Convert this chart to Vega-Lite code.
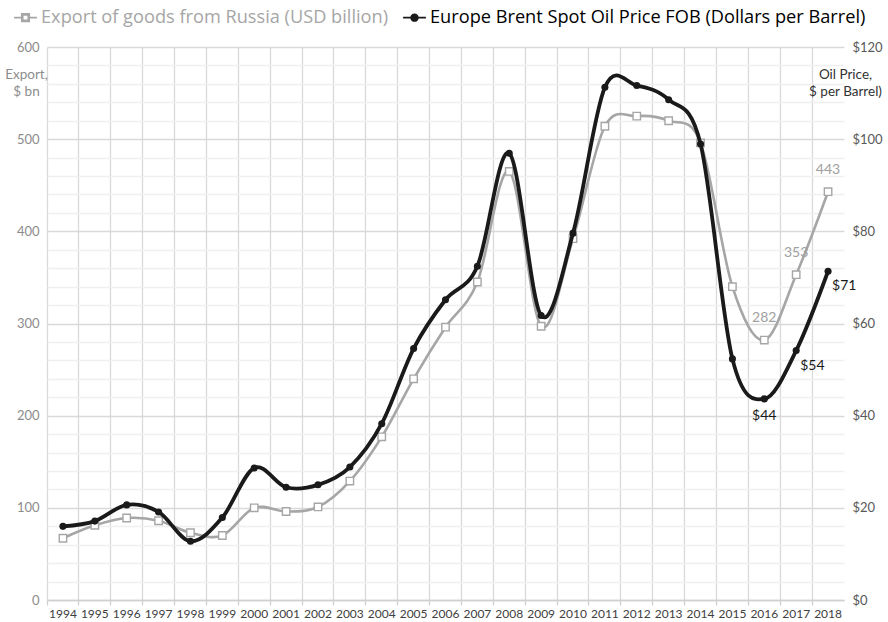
{
  "$schema": "https://vega.github.io/schema/vega-lite/v6.json",
  "autosize": "none",
  "width": 797,
  "height": 553,
  "padding": {"left": 47, "top": 47, "right": 44, "bottom": 22},
  "background": "white",
  "config": {
    "font": "Lato",
    "view": {"stroke": null}
  },
  "data": {
    "values": [
      {"year": "1994", "series": "Export of goods from Russia (USD billion)", "value": 67},
      {"year": "1995", "series": "Export of goods from Russia (USD billion)", "value": 81},
      {"year": "1996", "series": "Export of goods from Russia (USD billion)", "value": 89},
      {"year": "1997", "series": "Export of goods from Russia (USD billion)", "value": 86},
      {"year": "1998", "series": "Export of goods from Russia (USD billion)", "value": 73},
      {"year": "1999", "series": "Export of goods from Russia (USD billion)", "value": 70},
      {"year": "2000", "series": "Export of goods from Russia (USD billion)", "value": 100},
      {"year": "2001", "series": "Export of goods from Russia (USD billion)", "value": 96},
      {"year": "2002", "series": "Export of goods from Russia (USD billion)", "value": 101},
      {"year": "2003", "series": "Export of goods from Russia (USD billion)", "value": 129},
      {"year": "2004", "series": "Export of goods from Russia (USD billion)", "value": 177},
      {"year": "2005", "series": "Export of goods from Russia (USD billion)", "value": 240},
      {"year": "2006", "series": "Export of goods from Russia (USD billion)", "value": 296},
      {"year": "2007", "series": "Export of goods from Russia (USD billion)", "value": 345},
      {"year": "2008", "series": "Export of goods from Russia (USD billion)", "value": 465},
      {"year": "2009", "series": "Export of goods from Russia (USD billion)", "value": 297},
      {"year": "2010", "series": "Export of goods from Russia (USD billion)", "value": 392},
      {"year": "2011", "series": "Export of goods from Russia (USD billion)", "value": 514},
      {"year": "2012", "series": "Export of goods from Russia (USD billion)", "value": 525},
      {"year": "2013", "series": "Export of goods from Russia (USD billion)", "value": 520},
      {"year": "2014", "series": "Export of goods from Russia (USD billion)", "value": 496},
      {"year": "2015", "series": "Export of goods from Russia (USD billion)", "value": 340},
      {"year": "2016", "series": "Export of goods from Russia (USD billion)", "value": 282},
      {"year": "2017", "series": "Export of goods from Russia (USD billion)", "value": 353},
      {"year": "2018", "series": "Export of goods from Russia (USD billion)", "value": 443},
      {"year": "1994", "series": "Europe Brent Spot Oil Price FOB (Dollars per Barrel)", "value": 15.98},
      {"year": "1995", "series": "Europe Brent Spot Oil Price FOB (Dollars per Barrel)", "value": 17.12},
      {"year": "1996", "series": "Europe Brent Spot Oil Price FOB (Dollars per Barrel)", "value": 20.64},
      {"year": "1997", "series": "Europe Brent Spot Oil Price FOB (Dollars per Barrel)", "value": 19.11},
      {"year": "1998", "series": "Europe Brent Spot Oil Price FOB (Dollars per Barrel)", "value": 12.76},
      {"year": "1999", "series": "Europe Brent Spot Oil Price FOB (Dollars per Barrel)", "value": 17.9},
      {"year": "2000", "series": "Europe Brent Spot Oil Price FOB (Dollars per Barrel)", "value": 28.66},
      {"year": "2001", "series": "Europe Brent Spot Oil Price FOB (Dollars per Barrel)", "value": 24.46},
      {"year": "2002", "series": "Europe Brent Spot Oil Price FOB (Dollars per Barrel)", "value": 24.99},
      {"year": "2003", "series": "Europe Brent Spot Oil Price FOB (Dollars per Barrel)", "value": 28.85},
      {"year": "2004", "series": "Europe Brent Spot Oil Price FOB (Dollars per Barrel)", "value": 38.26},
      {"year": "2005", "series": "Europe Brent Spot Oil Price FOB (Dollars per Barrel)", "value": 54.57},
      {"year": "2006", "series": "Europe Brent Spot Oil Price FOB (Dollars per Barrel)", "value": 65.16},
      {"year": "2007", "series": "Europe Brent Spot Oil Price FOB (Dollars per Barrel)", "value": 72.44},
      {"year": "2008", "series": "Europe Brent Spot Oil Price FOB (Dollars per Barrel)", "value": 96.94},
      {"year": "2009", "series": "Europe Brent Spot Oil Price FOB (Dollars per Barrel)", "value": 61.74},
      {"year": "2010", "series": "Europe Brent Spot Oil Price FOB (Dollars per Barrel)", "value": 79.61},
      {"year": "2011", "series": "Europe Brent Spot Oil Price FOB (Dollars per Barrel)", "value": 111.26},
      {"year": "2012", "series": "Europe Brent Spot Oil Price FOB (Dollars per Barrel)", "value": 111.63},
      {"year": "2013", "series": "Europe Brent Spot Oil Price FOB (Dollars per Barrel)", "value": 108.56},
      {"year": "2014", "series": "Europe Brent Spot Oil Price FOB (Dollars per Barrel)", "value": 98.97},
      {"year": "2015", "series": "Europe Brent Spot Oil Price FOB (Dollars per Barrel)", "value": 52.32},
      {"year": "2016", "series": "Europe Brent Spot Oil Price FOB (Dollars per Barrel)", "value": 43.64},
      {"year": "2017", "series": "Europe Brent Spot Oil Price FOB (Dollars per Barrel)", "value": 54.13},
      {"year": "2018", "series": "Europe Brent Spot Oil Price FOB (Dollars per Barrel)", "value": 71.34}
    ]
  },
  "resolve": {"scale": {"y": "independent"}, "axis": {"x": "independent"}},
  "layer": [
    {
      "transform": [{"filter": "datum.series === 'Export of goods from Russia (USD billion)'"}],
      "encoding": {
        "x": {
          "field": "year", "type": "ordinal",
          "scale": {"type": "band", "paddingInner": 0, "paddingOuter": 0},
          "axis": {
            "orient": "bottom",
            "title": null, "labels": false, "bandPosition": 0,
            "grid": true, "gridColor": "#d9d9d9", "gridWidth": 1.3,
            "ticks": true, "tickColor": "#d0d0d0", "tickSize": 5, "tickWidth": 1.3,
            "domain": true, "domainColor": "#d0d0d0", "domainWidth": 1.3
          }
        },
        "y": {
          "field": "value", "type": "quantitative",
          "scale": {"domain": [0, 600], "nice": false, "zero": true},
          "axis": {
            "orient": "left",
            "values": [0,20,40,60,80,100,120,140,160,180,200,220,240,260,280,300,320,340,360,380,400,420,440,460,480,500,520,540,560,580,600],
            "labelExpr": "datum.value % 100 === 0 ? datum.label : ''",
            "grid": true,
            "gridColor": {"condition": {"test": "datum.value % 100 === 0", "value": "#d9d9d9"}, "value": "#efefef"},
            "gridWidth": 1.3,
            "ticks": false, "domain": false,
            "labelColor": "#8c8c8c", "labelFontSize": 13, "labelPadding": 8,
            "title": ["Export,", "$ bn"],
            "titleAngle": 0, "titleAlign": "center", "titleBaseline": "top",
            "titleX": -21, "titleY": 20, "titleFontWeight": "normal",
            "titleFontSize": 13.5, "titleColor": "#8c8c8c", "titleLineHeight": 17
          }
        },
        "color": {
          "field": "series", "type": "nominal",
          "scale": {
            "domain": ["Export of goods from Russia (USD billion)", "Europe Brent Spot Oil Price FOB (Dollars per Barrel)"],
            "range": ["#a6a6a6", "#1a1a1a"]
          },
          "legend": {
            "title": null,
            "orient": "none",
            "direction": "horizontal",
            "legendX": -34,
            "legendY": -42,
            "labelFont": "Open Sans",
            "labelFontSize": 18.2,
            "labelLimit": 600,
            "columnPadding": 10,
            "labelOffset": 3,
            "symbolSize": 520,
            "symbolType": "M-1,0H1",
            "symbolStrokeWidth": 2.5,
            "encode": {
              "symbols": {
                "update": {
                  "shape": [
                    {"test": "datum.value === 'Export of goods from Russia (USD billion)'", "value": "M-1,0H-0.33M0.33,0H1M-0.33,-0.33H0.33V0.33H-0.33ZM-0.24,-0.24V0.24H0.24V-0.24Z"},
                    {"value": "M-1,0H1M-0.3,0A0.3,0.3 0 1,0 0.3,0A0.3,0.3 0 1,0 -0.3,0Z"}
                  ],
                  "fill": [
                    {"test": "datum.value === 'Export of goods from Russia (USD billion)'", "value": "#ffffff"},
                    {"value": "#1a1a1a"}
                  ],
                  "fillOpacity": {"value": 1},
                  "stroke": [
                    {"test": "datum.value === 'Export of goods from Russia (USD billion)'", "value": "#a6a6a6"},
                    {"value": "#1a1a1a"}
                  ],
                  "strokeWidth": {"value": 1.6},
                  "opacity": {"value": 1}
                }
              },
              "labels": {
                "update": {
                  "fill": [
                    {"test": "datum.value === 'Export of goods from Russia (USD billion)'", "value": "#a6a6a6"},
                    {"value": "#000000"}
                  ]
                }
              }
            }
          }
        }
      },
      "layer": [
        {"mark": {"type": "line", "interpolate": "cardinal", "tension": 0, "strokeWidth": 2.6}},
        {"mark": {"type": "point", "shape": "square", "filled": true, "fill": "#ffffff", "stroke": "#a6a6a6", "strokeWidth": 1.4, "size": 55, "opacity": 1}},
        {
          "transform": [{"filter": "datum.year >= '2016'"}],
          "mark": {"type": "text", "dy": -22, "align": "center", "fontSize": 14, "color": "#a0a0a0"},
          "encoding": {"text": {"field": "value", "type": "quantitative", "format": "d"}, "color": {"value": "#a0a0a0"}}
        }
      ]
    },
    {
      "transform": [{"filter": "datum.series === 'Europe Brent Spot Oil Price FOB (Dollars per Barrel)'"}],
      "encoding": {
        "x": {
          "field": "year", "type": "ordinal",
          "axis": {
            "orient": "bottom",
            "title": null, "labelAngle": 0, "grid": false, "ticks": false, "domain": false,
            "labelColor": "#404040", "labelFontSize": 12, "labelPadding": 8
          }
        },
        "y": {
          "field": "value", "type": "quantitative",
          "scale": {"domain": [0, 120], "nice": false, "zero": true},
          "axis": {
            "orient": "right",
            "values": [0, 20, 40, 60, 80, 100, 120],
            "labelExpr": "'$' + datum.value",
            "grid": false, "ticks": false, "domain": false,
            "labelColor": "#595959", "labelFontSize": 13, "labelPadding": 8,
            "title": ["Oil Price,", "$ per Barrel)"],
            "titleAngle": 0, "titleAlign": "center", "titleBaseline": "top",
            "titleX": 1, "titleY": 20, "titleFontWeight": "normal",
            "titleFontSize": 13.5, "titleColor": "#333333", "titleLineHeight": 17
          }
        },
        "color": {"field": "series", "type": "nominal"}
      },
      "layer": [
        {"mark": {"type": "line", "interpolate": "cardinal", "tension": 0, "strokeWidth": 3.8}},
        {"mark": {"type": "point", "shape": "circle", "filled": true, "size": 50, "opacity": 1}},
        {
          "transform": [{"filter": "datum.year === '2016'"}],
          "mark": {"type": "text", "dy": 17, "align": "center", "fontSize": 14},
          "encoding": {"text": {"field": "value", "type": "quantitative", "format": "$.0f"}, "color": {"value": "#1a1a1a"}}
        },
        {
          "transform": [{"filter": "datum.year >= '2017'"}],
          "mark": {"type": "text", "dy": 15, "dx": 4, "align": "left", "fontSize": 14},
          "encoding": {"text": {"field": "value", "type": "quantitative", "format": "$.0f"}, "color": {"value": "#1a1a1a"}}
        }
      ]
    }
  ]
}
